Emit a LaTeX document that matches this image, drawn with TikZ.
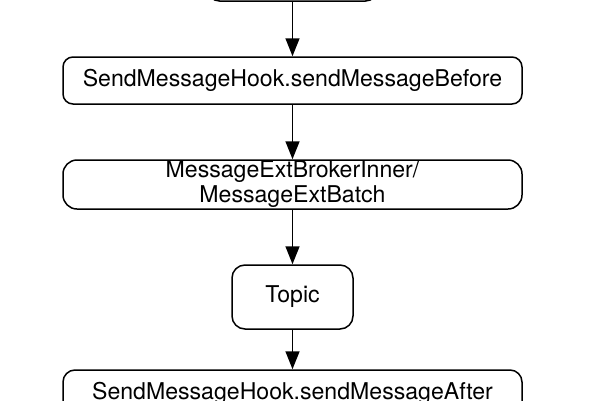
\documentclass[tikz,border=0pt]{standalone}
\usepackage{fontspec}
\setmainfont{TeX Gyre Heros}
\usetikzlibrary{arrows.meta}
\begin{document}
\begin{tikzpicture}[x=1pt,y=-1pt,
  box/.style={draw, line width=1.5pt, rounded corners=#1, inner sep=0pt, align=center,
    font=\fontsize{23.1}{25}\selectfont},
  arr/.style={line width=1.5pt, -{Triangle[length=18pt,width=14pt]}}]
\useasboundingbox (0,0) rectangle (600,400);
\node[box=12pt, minimum width=170pt, minimum height=42pt] (top) at (292.5,-20) {};
\node[box=10pt, minimum width=459pt, minimum height=47pt] (before) at (292.5,80.5) {SendMessageHook.sendMessageBefore};
\node[box=14pt, minimum width=459pt, minimum height=49pt] (ext) at (292.5,184.5) {MessageExtBrokerInner/\\MessageExtBatch};
\node[box=13pt, minimum width=121pt, minimum height=64pt] (topic) at (292.5,297) {Topic};
\node[box=12pt, minimum width=459pt, minimum height=47pt] (after) at (292.5,393.5) {SendMessageHook.sendMessageAfter};
\draw[arr] (top.south) -- (before.north);
\draw[arr] (before.south) -- (ext.north);
\draw[arr] (ext.south) -- (topic.north);
\draw[arr] (topic.south) -- (after.north);
\end{tikzpicture}
\end{document}
